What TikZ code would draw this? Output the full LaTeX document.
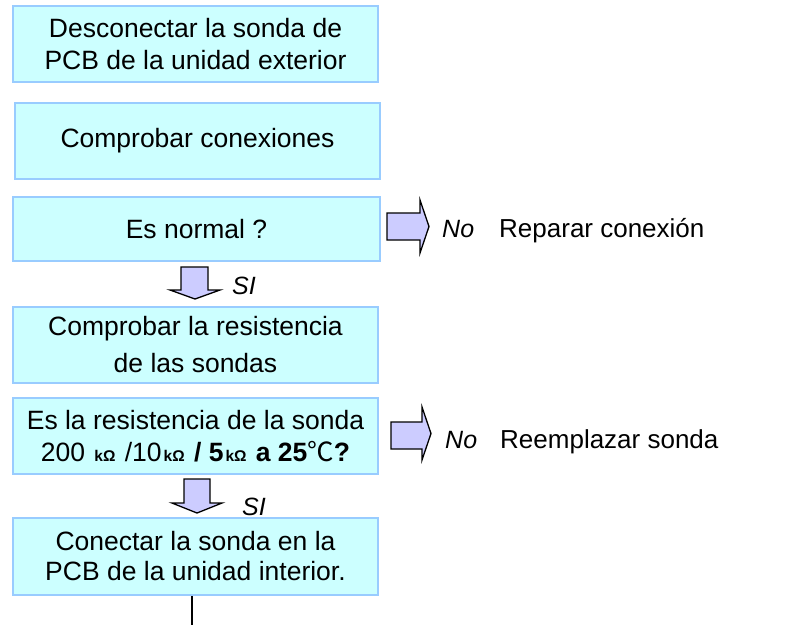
\documentclass[tikz,border=0pt]{standalone}
\usepackage{fontspec}
\setmainfont{Liberation Sans}
\newfontfamily\cjk{Noto Sans CJK SC}
\definecolor{boxfill}{HTML}{CCFFFF}
\definecolor{boxline}{HTML}{99CCFF}
\definecolor{arrfill}{HTML}{CCCCFF}
\newcommand\kohm{\hspace{2pt}{\fontsize{15.5}{15}\selectfont\bfseries kΩ}\hspace{2pt}}
\tikzset{
  stepbox/.style={draw=boxline, fill=boxfill, line width=1.5pt, minimum width=365pt, align=center, inner sep=0pt,
    font=\fontsize{26.5}{32}\selectfont},
  bigarrow/.style={draw=black, fill=arrfill, line width=1.3pt, line join=miter},
  lbl/.style={anchor=base west, inner sep=0pt, font=\fontsize{25}{30}\selectfont\itshape},
  txt/.style={anchor=base west, inner sep=0pt, font=\fontsize{26}{30}\selectfont}
}
\begin{document}
\begin{tikzpicture}[x=1pt,y=-1pt]
\useasboundingbox (0,0) rectangle (803,625);
\node[stepbox, minimum height=76pt] (b1) at (195.5,44) {Desconectar la sonda de\\PCB de la unidad exterior};
\node[stepbox, minimum height=76pt] (b2) at (197.5,141) {Comprobar conexiones};
\node[stepbox, minimum width=367pt, minimum height=64pt] (b3) at (196.5,229) {Es normal ?};
\node[stepbox, minimum height=76pt, font=\fontsize{26.5}{37}\selectfont] (b4) at (195.5,345) {Comprobar la resistencia\\de las sondas};
\node[stepbox, minimum height=76pt] (b5) at (195.5,436) {Es la resistencia de la sonda\\200 \kohm{} /10\kohm{} {\bfseries / 5\kohm{} a 25{\cjk\mdseries ℃}?}};
\node[stepbox, minimum height=77pt, font=\fontsize{26.5}{30}\selectfont] (b6) at (195.5,556.5) {Conectar la sonda en la\\PCB de la unidad interior.};
% right arrows
\draw[bigarrow] (387,213) -- (420,213) -- (420,200) -- (429,226.5) -- (420,253) -- (420,240) -- (387,240) -- cycle;
\draw[bigarrow] (391,422) -- (422,422) -- (422,407) -- (431,433.5) -- (422,460) -- (422,449) -- (391,449) -- cycle;
% down arrows
\draw[bigarrow] (181,267) -- (208,267) -- (208,290) -- (220,290) -- (195,299) -- (170,290) -- (181,290) -- cycle;
\draw[bigarrow] (184,479) -- (210,479) -- (210,503) -- (222,503) -- (197,513) -- (172,503) -- (184,503) -- cycle;
% labels
\node[lbl] (si1) at (232,294) {SI};
\node[lbl] (si2) at (242,515) {SI};
\node[lbl] (no1) at (442,237) {No};
\node[txt] (r1) at (499,237) {Reparar conexión};
\node[lbl] (no2) at (445,448) {No};
\node[txt] (r2) at (500,448) {Reemplazar sonda};
% exit line
\coordinate (exit) at (192,625);
\draw[line width=1.3pt] (b6.south -| exit) -- (exit);
\end{tikzpicture}
\end{document}
